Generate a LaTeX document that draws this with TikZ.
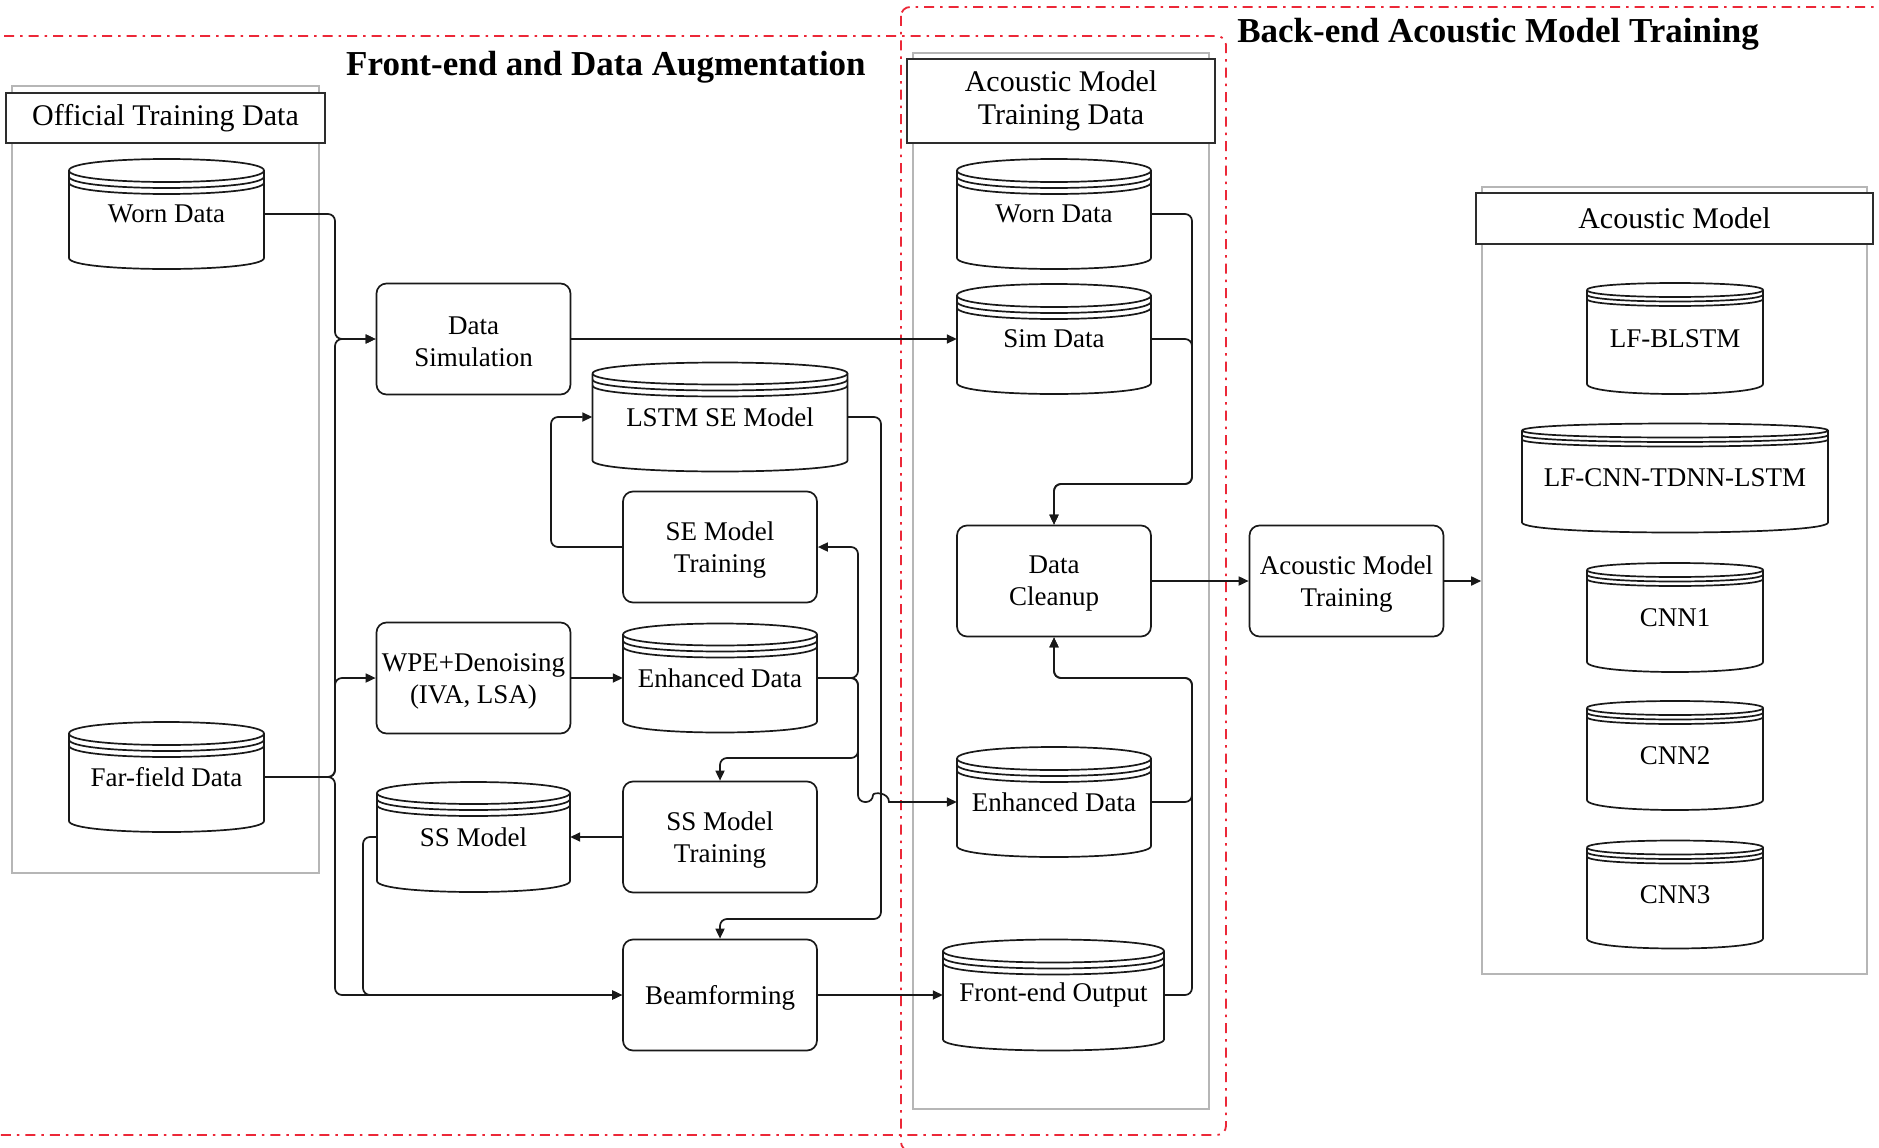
\documentclass[tikz,border=0pt]{standalone}
\usepackage{fontspec}
\setmainfont{Liberation Serif}
\usetikzlibrary{arrows.meta}

\definecolor{regionred}{RGB}{236,40,56}
\definecolor{groupgray}{RGB}{182,182,182}
\definecolor{hdrline}{RGB}{45,45,45}
\definecolor{ink}{RGB}{25,25,25}

\newcommand\dgbody{\fontsize{27}{32}\selectfont}
\newcommand\dghead{\fontsize{30}{33}\selectfont}
\newcommand\dgtitle{\fontsize{35}{40}\selectfont\bfseries}

\tikzset{
  region/.style={draw=regionred, line width=1.8pt, rounded corners=9pt,
    dash pattern=on 10pt off 6pt on 2.5pt off 6pt},
  group/.style={draw=groupgray, line width=1.6pt, inner sep=0pt, fill=white},
  header/.style={draw=hdrline, line width=2.2pt, fill=white, inner sep=0pt,
    align=center, font=\dghead},
  title/.style={inner sep=0pt, font=\dgtitle},
  proc/.style={draw=ink, line width=1.7pt, rounded corners=10pt, fill=white,
    minimum width=194pt, minimum height=111pt},
  proctext/.style={inner sep=2pt, align=center, font=\dgbody},
  dbline/.style={draw=ink, line width=1.7pt, line join=round},
  dbtext/.style={inner sep=0pt, align=center, font=\dgbody},
  conn/.style={draw=ink, line width=1.7pt, rounded corners=7pt,
    -{Triangle[length=10pt,width=9pt]}},
}

% processing step: name, cx, cy, label (label sits slightly below the centre)
\newcommand\procbox[4]{%
  \node[proc] (#1) at (#2,#3) {};
  \node[proctext] (#1-label) at ([yshift=-3pt]#1.center) {#4};
}

% database cylinder: name, cx, cy, width, height, top radius, ring gap, base radius, label
\newcommand\dbshape[9]{%
  \pgfmathsetmacro\dbL{#2-#4/2}%
  \pgfmathsetmacro\dbR{#2+#4/2}%
  \pgfmathsetmacro\dbC{#3-#5/2+#6}%
  \pgfmathsetmacro\dbK{4/3*#6}%
  \pgfmathsetmacro\dbE{#3+#5/2-#8}%
  \pgfmathsetmacro\dbKb{4/3*#8}%
  \fill[white] (\dbL,\dbC) -- (\dbL,\dbE) -- (\dbR,\dbE) -- (\dbR,\dbC) -- cycle;
  \draw[dbline] (\dbL,\dbC) .. controls (\dbL,\dbC-\dbK) and (\dbR,\dbC-\dbK) .. (\dbR,\dbC)
      .. controls (\dbR,\dbC+\dbK) and (\dbL,\dbC+\dbK) .. cycle;
  \foreach \g in {1,2}{%
    \pgfmathsetmacro\dbG{\dbC+\g*#7}%
    \draw[dbline] (\dbL,\dbG) .. controls (\dbL,\dbG+\dbK) and (\dbR,\dbG+\dbK) .. (\dbR,\dbG);
  }%
  \draw[dbline] (\dbL,\dbC) -- (\dbL,\dbE) .. controls (\dbL,\dbE+\dbKb) and (\dbR,\dbE+\dbKb) .. (\dbR,\dbE) -- (\dbR,\dbC);
  \node[dbtext, minimum width=#4pt, minimum height=#5pt] (#1) at (#2,#3) {#9};
}

\begin{document}
\begin{tikzpicture}[x=1pt,y=-1pt]
\useasboundingbox (0,0) rectangle (1879,1148);
\clip (0,0) rectangle (1879,1148);
\fill[white] (0,0) rectangle (1879,1148);

% dash-dotted regions
\draw[region] (-40,36) rectangle (1226,1135);
\draw[region] (901,7) rectangle (1940,1151);

% titles
\node[title, anchor=base] (fetitle) at (606,76) {Front-end and Data Augmentation};
\node[title, anchor=base] (betitle) at (1498,43) {Back-end Acoustic Model Training};

% grey containers with their headers
\node[group, minimum width=307pt, minimum height=787pt] (offgrp) at (165.5,479.5) {};
\node[group, minimum width=296pt, minimum height=1056pt] (amdgrp) at (1061,581) {};
\node[group, minimum width=385pt, minimum height=787pt] (amc) at (1674.5,580.5) {};
\node[header, minimum width=319pt, minimum height=50pt] (offhdr) at (165.5,118) {Official Training Data};
\node[header, minimum width=308pt, minimum height=84pt] (amdhdr) at (1061,101) {Acoustic Model\\Training Data};
\node[header, minimum width=397pt, minimum height=51pt] (amhdr) at (1674.5,218.5) {Acoustic Model};

% front-end data stores
\dbshape{wornA}{166.5}{214}{195}{110}{11.5}{6}{11}{Worn Data}
\dbshape{farA}{166.5}{777}{195}{110}{11.5}{6}{11}{Far-field Data}
\dbshape{lstm}{720}{417}{255}{109}{11}{6}{11}{LSTM SE Model}
\dbshape{fed}{720}{678}{194}{109}{11}{6}{11}{Enhanced Data}
\dbshape{ssm}{473.5}{837}{193}{110}{11}{6}{11}{SS Model}

% back-end data stores
\dbshape{bworn}{1054}{214}{194}{110}{11.5}{6}{11}{Worn Data}
\dbshape{sim}{1054}{339}{194}{110}{11.5}{6}{11}{Sim Data}
\dbshape{bed}{1054}{802}{194}{110}{11.5}{6}{11}{Enhanced Data}
\dbshape{fo}{1053.5}{995}{221}{111}{11.5}{6}{11}{Front-end Output}

% acoustic models
\dbshape{lfb}{1675}{338.5}{176}{111}{7}{4.5}{10}{LF-BLSTM}
\dbshape{lfc}{1675}{478}{306}{109}{7}{4.5}{10}{LF-CNN-TDNN-LSTM}
\dbshape{cnna}{1675}{617.5}{176}{109}{7}{4.5}{10}{CNN1}
\dbshape{cnnb}{1675}{755.5}{176}{109}{7}{4.5}{10}{CNN2}
\dbshape{cnnc}{1675}{894.5}{176}{108}{7}{4.5}{10}{CNN3}

% processing steps
\procbox{ds}{473.5}{339}{Data\\Simulation}
\procbox{wpe}{473.5}{678}{WPE+Denoising\\(IVA, LSA)}
\procbox{semt}{720}{547}{SE Model\\Training}
\procbox{ssmt}{720}{837}{SS Model\\Training}
\procbox{bf}{720}{995}{Beamforming}
\procbox{dc}{1054}{581}{Data\\Cleanup}
\procbox{amt}{1346.5}{581}{Acoustic Model\\Training}

% routing points
\coordinate (trunk) at (335,0);
\coordinate (sstrunk) at (363,0);
\coordinate (sebus) at (551,0);
\coordinate (fedbus) at (858,0);
\coordinate (lstmbus) at (881,0);
\coordinate (ssdrop) at (720,758);
\coordinate (bfdrop) at (720,919);
\coordinate (hopL) at (873,802);
\coordinate (hopLc) at (873,792);
\coordinate (hopR) at (889,802);
\coordinate (hopRc) at (889,792);
\coordinate (bebus) at (1192,0);
\coordinate (dctop) at (1054,484);
\coordinate (dcbot) at (1054,678);

% front-end connectors
\draw[conn] (wornA.east) -| (trunk |- ds.west) -- (ds.west);
\draw[conn] (farA.east) -| (trunk |- ds.west) -- (ds.west);
\draw[conn] (farA.east) -| (trunk |- wpe.west) -- (wpe.west);
\draw[conn] (farA.east) -| (trunk |- bf.west) -- (bf.west);
\draw[conn] (ssm.west) -| (sstrunk |- bf.west) -- (bf.west);
\draw[conn] (ds.east) -- (ds.east -| sim.west);
\draw[conn] (wpe.east) -- (fed.west);
\draw[conn] (fed.east) -| (fedbus |- semt.east) -- (semt.east);
\draw[conn] (fed.east) -| (fedbus |- ssdrop) -- (ssdrop) -- (ssmt.north);
\draw[conn] (fed.east) -| (fedbus |- hopL) -- (hopL) [sharp corners]
   .. controls (hopLc) and (hopRc) .. (hopR) -- (bed.west);
\draw[conn] (semt.west) -| (sebus |- lstm.west) -- (lstm.west);
\draw[conn] (lstm.east) -| (lstmbus |- bfdrop) -- (bfdrop) -- (bf.north);
\draw[conn] (ssmt.west) -- (ssm.east);
\draw[conn] (bf.east) -- (fo.west);

% back-end connectors
\draw[conn] (bworn.east) -| (bebus |- dctop) -- (dctop) -- (dc.north);
\draw[conn] (sim.east) -| (bebus |- dctop) -- (dctop) -- (dc.north);
\draw[conn] (bed.east) -| (bebus |- dcbot) -- (dcbot) -- (dc.south);
\draw[conn] (fo.east) -| (bebus |- dcbot) -- (dcbot) -- (dc.south);
\draw[conn] (dc.east) -- (amt.west);
\draw[conn] (amt.east) -- (amt.east -| amc.west);
\end{tikzpicture}
\end{document}
